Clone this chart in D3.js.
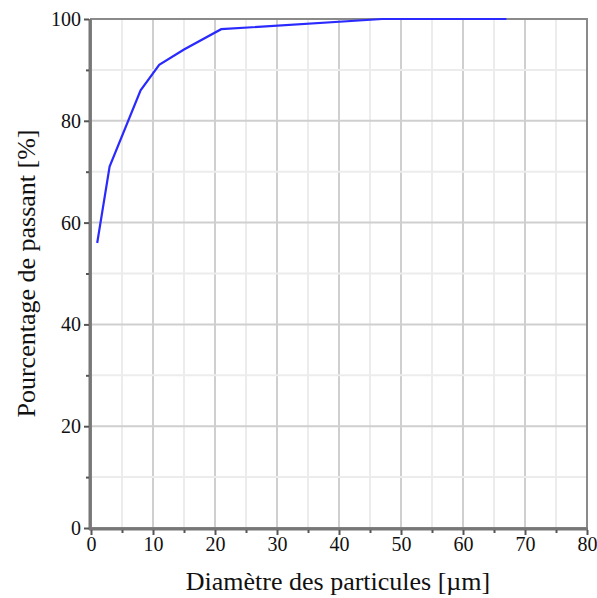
<!DOCTYPE html>
<html><head><meta charset="utf-8">
<script src="https://cdn.jsdelivr.net/npm/d3@7"></script>
<style>body{margin:0;background:#fff;}svg{display:block;} text{font-family:'Liberation Serif','Times New Roman',Times,Tinos,'DejaVu Serif',serif !important;}</style>
</head><body>
<script>
const diameters = [1, 3, 8, 11, 15, 21, 47, 67];
const passing = [56, 71, 86, 91, 94, 98, 100, 100];
const xTicks = [0, 10, 20, 30, 40, 50, 60, 70, 80];
const yTicks = [0, 20, 40, 60, 80, 100];
const xLabel = "Diamètre des particules [µm]";
const yLabel = "Pourcentage de passant [%]";

const W = 597, H = 598;
const svg = d3.select("body").append("svg").attr("width", W).attr("height", H);
const x = d3.scaleLinear().domain([0, 80]).range([91, 587]);
const y = d3.scaleLinear().domain([0, 100]).range([528, 19]);

// grid
const g = svg.append("g");
d3.range(0, 81, 5).forEach(v => {
  g.append("line").attr("x1", x(v)).attr("x2", x(v)).attr("y1", y(0)).attr("y2", y(100))
   .attr("stroke", v % 10 === 0 ? "#cfcfcf" : "#ececec").attr("stroke-width", 2);
});
d3.range(0, 101, 10).forEach(v => {
  g.append("line").attr("x1", x(0)).attr("x2", x(80)).attr("y1", y(v)).attr("y2", y(v))
   .attr("stroke", v % 20 === 0 ? "#cfcfcf" : "#ececec").attr("stroke-width", 2);
});

// frame
svg.append("rect").attr("x", x(0)).attr("y", y(100)).attr("width", x(80) - x(0)).attr("height", y(0) - y(100))
  .attr("fill", "none").attr("stroke", "#8a8a8a").attr("stroke-width", 2);
svg.append("line").attr("x1", x(0) - 1).attr("x2", x(0) - 1).attr("y1", y(100)).attr("y2", y(0) + 2)
  .attr("stroke", "#777").attr("stroke-width", 3);
svg.append("line").attr("x1", x(0) - 2).attr("x2", x(80) + 1).attr("y1", y(0) + 1).attr("y2", y(0) + 1)
  .attr("stroke", "#777").attr("stroke-width", 3);

// axes
const xAxis = d3.axisBottom(x).tickValues(d3.range(0, 81, 5)).tickSize(5).tickPadding(2)
  .tickFormat(d => xTicks.includes(d) ? d : "");
const xa = svg.append("g").attr("transform", `translate(0,${y(0) + 2})`).call(xAxis);
const yAxis = d3.axisLeft(y).tickValues(d3.range(0, 101, 10)).tickSize(5).tickPadding(3)
  .tickFormat(d => yTicks.includes(d) ? d : "");
const ya = svg.append("g").attr("transform", `translate(${x(0) - 2},0)`).call(yAxis);
[xa, ya].forEach(a => {
  a.attr("font-family", null);
  a.select(".domain").remove();
  a.selectAll(".tick line").attr("stroke", "#555").attr("stroke-width", 2);
  a.selectAll("text").attr("font-size", 20).attr("fill", "#111");
});
ya.selectAll(".tick").filter(d => !yTicks.includes(d)).select("line").attr("x2", -3);
xa.selectAll(".tick").filter(d => !xTicks.includes(d)).select("line").attr("y2", 3);

// line
const data = diameters.map((d, i) => [d, passing[i]]);
svg.append("path").datum(data)
  .attr("d", d3.line().x(d => x(d[0])).y(d => y(d[1])))
  .attr("fill", "none").attr("stroke", "#2a2aff").attr("stroke-width", 2.2);

// labels
svg.append("text").attr("x", (x(0) + x(80)) / 2 - 1).attr("y", 590).attr("text-anchor", "middle")
  .attr("font-size", 26).attr("fill", "#111").text(xLabel);
svg.append("text").attr("transform", `translate(35,${(y(0) + y(100)) / 2}) rotate(-90)`)
  .attr("text-anchor", "middle").attr("font-size", 26).attr("fill", "#111").text(yLabel);
</script>
</body></html>
